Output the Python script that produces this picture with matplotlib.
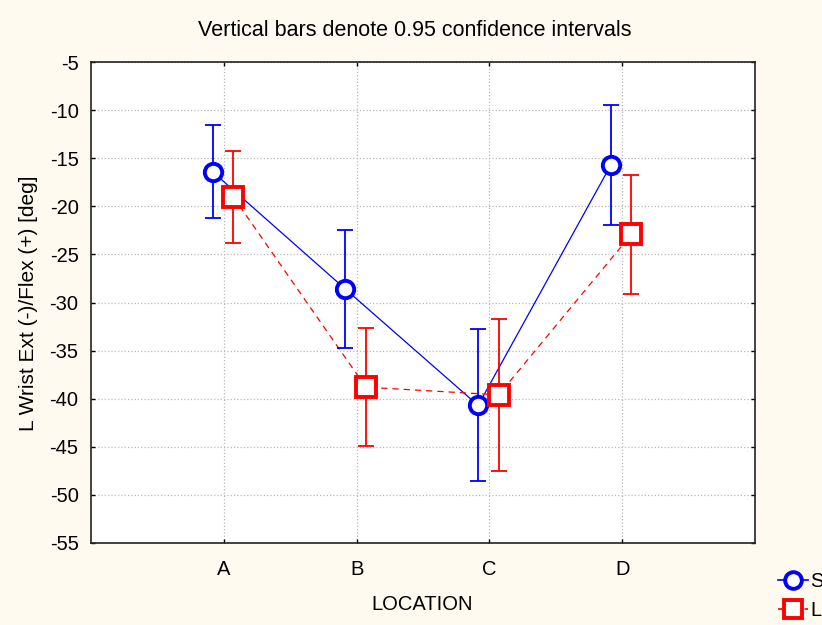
import matplotlib
matplotlib.use("Agg")
import matplotlib.pyplot as plt
import numpy as np
from matplotlib.lines import Line2D

categories = ["A", "B", "C", "D"]
s_mean = [-16.4, -28.6, -40.7, -15.7]
s_ci = [4.8, 6.1, 7.9, 6.2]
l_mean = [-19.0, -38.8, -39.6, -22.9]
l_ci = [4.8, 6.1, 7.9, 6.2]
yticks = list(range(-5, -56, -5))
legend_labels = ["S", "L"]

plt.rcParams['font.family'] = ['Liberation Sans', 'DejaVu Sans']

fig = plt.figure(figsize=(8.22, 6.25), dpi=100, facecolor='#fffaf0')
ax = fig.add_axes([91/822, 1-543/625, (755-91)/822, (543-62)/625])
ax.set_facecolor('white')

x = np.arange(1, len(categories)+1)
xs = x - 0.085
xl = x + 0.07

ax.plot(xs, s_mean, color='#0000ff', lw=0.9, zorder=2)
ax.plot(xl, l_mean, color='#ff0000', lw=0.9, ls=(0, (5, 4)), zorder=2)
ax.errorbar(xs, s_mean, yerr=s_ci, fmt='none', ecolor='#0000ff', elinewidth=1.3, capsize=5.5, capthick=1.3, zorder=3)
ax.errorbar(xl, l_mean, yerr=l_ci, fmt='none', ecolor='#ff0000', elinewidth=1.3, capsize=5.5, capthick=1.3, zorder=3)
ax.plot(xs, s_mean, ls='none', marker='o', ms=12.5, mfc='white', mec='#0000ff', mew=2.8, zorder=4)
ax.plot(xl, l_mean, ls='none', marker='s', ms=14, mfc='white', mec='#ff0000', mew=2.8, zorder=4)

ax.set_xlim(0, 5)
ax.set_ylim(-55, -5)
ax.set_xticks(x)
ax.set_xticklabels(categories)
ax.set_yticks(yticks)
ax.set_yticklabels([str(t) for t in yticks])
ax.tick_params(direction='in', length=3, width=1, top=True, right=True, labelsize=14.5, colors='black')
ax.tick_params(axis='y', pad=9)
ax.tick_params(axis='x', pad=12)
ax.grid(True, color='#b8b8b8', ls=':', lw=0.9)
ax.set_axisbelow(True)
for s in ax.spines.values():
    s.set_color('#222222')
    s.set_linewidth(1.2)

fig.text(422/822, 1-604/625, "LOCATION", ha='center', va='center', fontsize=14.5)
fig.text(28/822, 1-303/625, "L Wrist Ext (-)/Flex (+) [deg]", ha='center', va='center', rotation=90, fontsize=15)
fig.text(415/822, 1-30/625, "Vertical bars denote 0.95 confidence intervals", ha='center', va='center', fontsize=15.5)

# legend (clipped at the figure edge, as in the reference)
h1 = Line2D([], [], color='#0000ff', lw=1.2, marker='o', ms=12, mfc='white', mec='#0000ff', mew=2.8)
h2 = Line2D([], [], color='#ff0000', lw=1.2, ls='--', marker='s', ms=13, mfc='white', mec='#ff0000', mew=2.8)
fig.legend([h1, h2], legend_labels, loc='upper left', bbox_to_anchor=(778/822, 1-572/625), frameon=False,
           handlelength=1.5, handletextpad=0.1, labelspacing=0.5, fontsize=14.5, borderaxespad=0, borderpad=0)

fig.savefig("out.png", dpi=100, facecolor=fig.get_facecolor())
